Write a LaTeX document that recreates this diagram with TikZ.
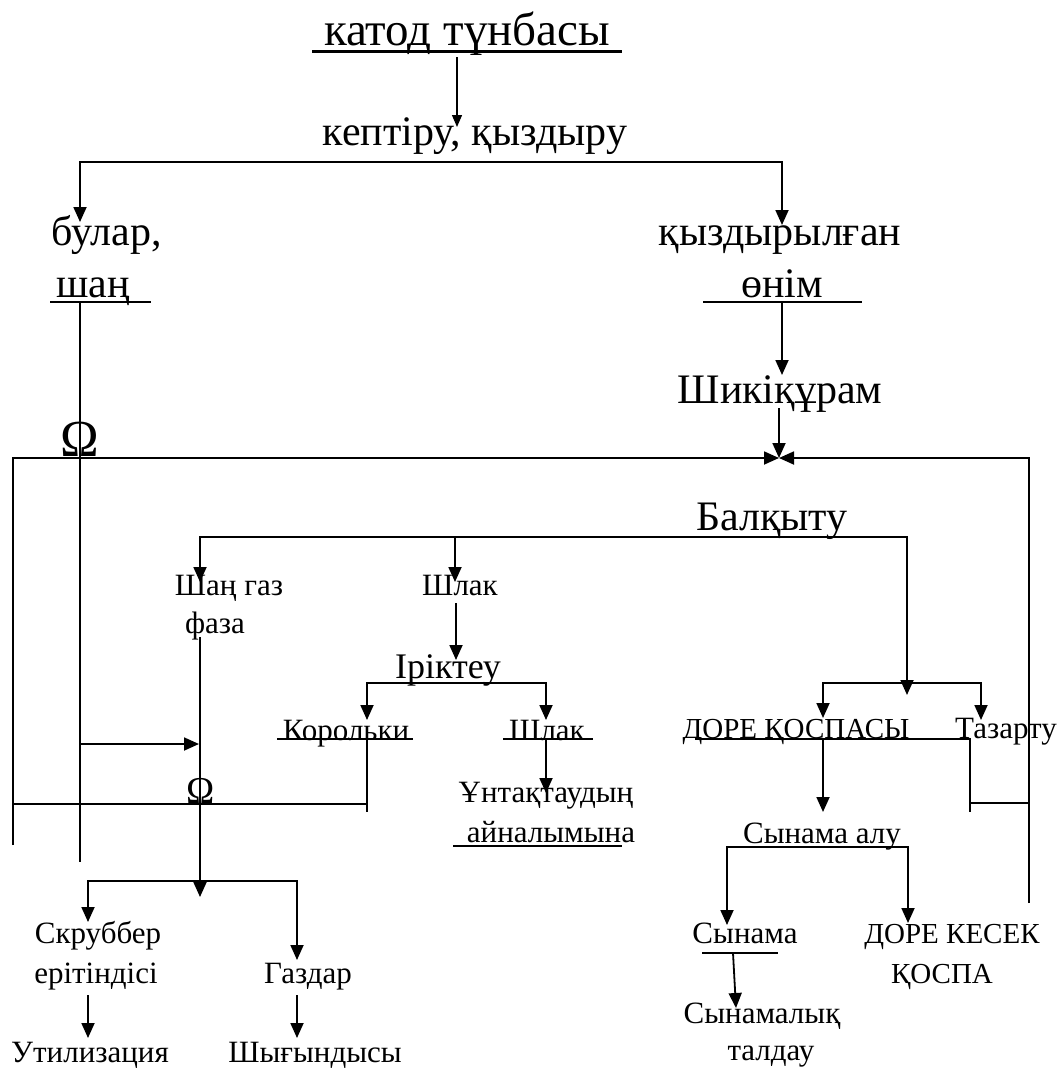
\documentclass[tikz,border=0pt]{standalone}
\usepackage{fontspec}
\setmainfont{Liberation Serif}
\usetikzlibrary{arrows.meta}
\begin{document}
\begin{tikzpicture}[x=1pt,y=-1pt,
  ttl/.style={font=\fontsize{47}{50}\selectfont,inner sep=0pt,anchor=base},
  big/.style={font=\fontsize{42}{46}\selectfont,inner sep=0pt,anchor=base},
  sm/.style={font=\fontsize{31}{35}\selectfont,inner sep=0pt,anchor=base},
  xs/.style={font=\fontsize{29}{33}\selectfont,inner sep=0pt,anchor=base},
  ln/.style={line width=1.8pt},
  mytip/.tip={Triangle[length=15pt,width=13pt]},
  thintip/.tip={Triangle[length=12pt,width=10pt]},
  arr/.style={ln,-mytip},
  darr/.style={ln,mytip-mytip}]
\useasboundingbox (0,0) rectangle (1063,1068);

% ---------- texts ----------
\node[ttl] (title) at (467,45) {катод түнбасы};
\node[big] (kep) at (475,145) {кептіру, қыздыру};
\node[big] (bular1) at (107,245) {булар,};
\node[big] (bular2) at (93,297) {шаң};
\node[big] (qyz1) at (780,245) {қыздырылған};
\node[big] (qyz2) at (782,297) {өнім};
\node[big] (shiki) at (780,403) {Шикіқұрам};
\node[big] (balq) at (772,530) {Балқыту};
\node[sm] (shang1) at (229,595) {Шаң газ};
\node[sm] (shang2) at (215,633) {фаза};
\node[sm] (shlak) at (460,595) {Шлак};
\node[big,font=\fontsize{36}{40}\selectfont] (irik) at (448,678) {Іріктеу};
\node[sm] (korol) at (346,740) {Корольки};
\node[sm] (shlak2) at (547,740) {Шлак};
\node[sm] (unt1) at (546,802) {Ұнтақтаудың};
\node[sm] (unt2) at (551,842) {айналымына};
\node[xs] (dore) at (796,738) {ДОРЕ ҚОСПАСЫ};
\node[sm] (taz) at (1006,738) {Тазарту};
\node[sm] (syn) at (822,843) {Сынама алу};
\node[sm] (syn2) at (745,943) {Сынама};
\node[sm] (synl1) at (762,1023) {Сынамалық};
\node[sm] (synl2) at (771,1060) {талдау};
\node[xs] (kesek1) at (952,943) {ДОРЕ КЕСЕК};
\node[xs] (kesek2) at (942,983) {ҚОСПА};
\node[sm] (skr1) at (98,943) {Скруббер};
\node[sm] (skr2) at (96,983) {ерітіндісі};
\node[sm] (util) at (90,1062) {Утилизация};
\node[sm] (gaz) at (308,983) {Газдар};
\node[sm] (shyg) at (315,1062) {Шығындысы};

% ---------- key points ----------
\coordinate (tA) at (457,57);   \coordinate (tB) at (457,127);
\coordinate (s1L) at (80,222);  \coordinate (s1a) at (80,162);
\coordinate (s1b) at (782,162); \coordinate (s1R) at (782,225);
\coordinate (sh) at (80,302);   \coordinate (shE) at (80,862);
\coordinate (on) at (782,302);  \coordinate (onE) at (782,375);
\coordinate (shkA) at (779,408); \coordinate (J) at (779,458);
\coordinate (LL) at (13,845);   \coordinate (LLt) at (13,458);
\coordinate (RR) at (1029,903); \coordinate (RRt) at (1029,458);
\coordinate (bL) at (200,582);  \coordinate (bLa) at (200,537);
\coordinate (bRa) at (907,537); \coordinate (bR) at (907,695);
\coordinate (bM) at (455,537);  \coordinate (bMe) at (455,582);
\coordinate (fz) at (200,637);  \coordinate (fzE) at (200,897);
\coordinate (gL) at (88,922);   \coordinate (gLa) at (88,881);
\coordinate (gRa) at (297,881); \coordinate (gR) at (297,960);
\coordinate (hA) at (80,744);   \coordinate (hB) at (199,744);
\coordinate (oL) at (13,804);   \coordinate (oR) at (367,804);
\coordinate (kA) at (367,739);  \coordinate (kB) at (367,812);
\coordinate (slA) at (456,603); \coordinate (slB) at (456,660);
\coordinate (iL) at (367,720);  \coordinate (iLa) at (367,683);
\coordinate (iRa) at (546,683); \coordinate (iR) at (546,720);
\coordinate (s2A) at (546,739); \coordinate (s2B) at (546,793);
\coordinate (dL) at (823,718);  \coordinate (dLa) at (823,683);
\coordinate (dRa) at (981,683); \coordinate (dR) at (981,720);
\coordinate (dA) at (823,739);  \coordinate (dB) at (823,812);
\coordinate (dl1) at (695,739); \coordinate (dl2) at (970,739);
\coordinate (dl3) at (970,812); \coordinate (dl4) at (970,803);
\coordinate (dl5) at (1029,803);
\coordinate (yL) at (727,925);  \coordinate (yLa) at (727,847);
\coordinate (yRa) at (908,847); \coordinate (yR) at (908,923);
\coordinate (snA) at (733,953); \coordinate (snB) at (736,1008);
\coordinate (skA) at (88,995);  \coordinate (skB) at (88,1038);
\coordinate (gzA) at (297,995); \coordinate (gzB) at (297,1038);

% ---------- underlines ----------
\draw[line width=3pt] (312,51) -- (622,51);
\draw[ln] (50,302) -- (151,302);
\draw[ln] (703,302) -- (862,302);
\draw[ln] (277,739) -- (413,739);
\draw[ln] (503,739) -- (593,739);
\draw[ln] (453,846) -- (622,846);
\draw[ln] (702,953) -- (778,953);

% ---------- connectors ----------
\draw[line width=1.3pt,-thintip] (tA) -- (tB);
\draw[darr] (s1L) -- (s1a) -- (s1b) -- (s1R);
\draw[arr] (on) -- (onE);
\draw[arr] (shkA) -- (J);
\draw[arr] (LL) -- (LLt) -- (J);
\draw[arr] (RR) -- (RRt) -- (J);
\node[font=\fontsize{52}{56}\selectfont,inner sep=1pt,anchor=base,fill=white] (om1) at (80,456) {Ω};
\draw[ln] (sh) -- (shE);
\draw[darr] (bL) -- (bLa) -- (bRa) -- (bR);
\draw[arr] (bM) -- (bMe);
\draw[arr] (fz) -- (fzE);
\draw[darr] (gL) -- (gLa) -- (gRa) -- (gR);
\draw[arr] (hA) -- (hB);
\node[font=\fontsize{38}{42}\selectfont,inner sep=0pt,anchor=base] (om2) at (201,803) {Ω};
\draw[ln] (oL) -- (oR);
\draw[ln] (kA) -- (kB);
\draw[arr] (slA) -- (slB);
\draw[darr] (iL) -- (iLa) -- (iRa) -- (iR);
\draw[arr] (s2A) -- (s2B);
\draw[darr] (dL) -- (dLa) -- (dRa) -- (dR);
\draw[arr] (dA) -- (dB);
\draw[ln] (dl1) -- (dl2) -- (dl3);
\draw[ln] (dl4) -- (dl5);
\draw[darr] (yL) -- (yLa) -- (yRa) -- (yR);
\draw[arr] (snA) -- (snB);
\draw[arr] (skA) -- (skB);
\draw[arr] (gzA) -- (gzB);
\end{tikzpicture}
\end{document}
